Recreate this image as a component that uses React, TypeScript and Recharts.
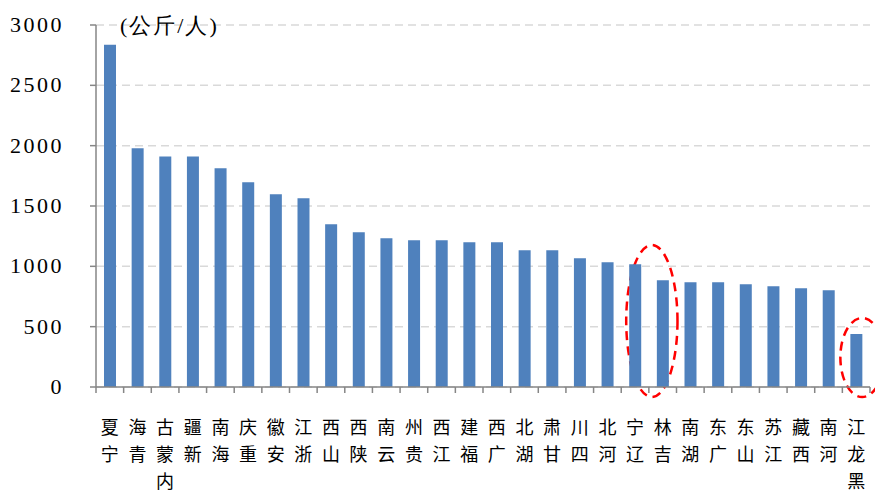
import { BarChart, Bar, XAxis, YAxis, CartesianGrid, ReferenceArea } from "recharts";

const provinces = [
  "宁夏", "青海", "内蒙古", "新疆", "海南", "重庆", "安徽", "浙江", "山西", "陕西",
  "云南", "贵州", "江西", "福建", "广西", "湖北", "甘肃", "四川", "河北", "辽宁",
  "吉林", "湖南", "广东", "山东", "江苏", "西藏", "河南", "黑龙江",
];
const perCapita = [
  2836, 1979, 1910, 1910, 1813, 1697, 1598, 1565, 1349, 1283,
  1233, 1216, 1216, 1200, 1200, 1133, 1133, 1067, 1034, 1017,
  884, 868, 868, 851, 834, 818, 801, 439,
];
const yTicks = [0, 500, 1000, 1500, 2000, 2500, 3000];
const unitLabel = "(公斤/人)";

const data = provinces.map((name, i) => ({ name, value: perCapita[i] }));

const AXIS_GRAY = "#868686";
const BAND = (870 - 96) / provinces.length;
const SERIF = "'Liberation Serif', 'DejaVu Serif', serif";

function YTick(props: any) {
  const { x, y, payload } = props;
  return (
    <g>
      <line x1={x + 2} y1={y} x2={x + 8} y2={y} stroke={AXIS_GRAY} strokeWidth={1.5} />
      <text
        x={x - 24}
        y={y}
        dy={7}
        textAnchor="end"
        fontFamily={SERIF}
        fontSize={22}
        letterSpacing={2.5}
        fill="#000"
      >
        {payload.value}
      </text>
    </g>
  );
}

function XTick(props: any) {
  const { x, y, payload, index } = props;
  const chars = Array.from(payload.value as string).reverse();
  const last = index === provinces.length - 1;
  const top = y - 8;
  return (
    <g>
      <line x1={x - BAND / 2} y1={top} x2={x - BAND / 2} y2={top + 6} stroke={AXIS_GRAY} strokeWidth={1.5} />
      {last && <line x1={x + BAND / 2} y1={top} x2={x + BAND / 2} y2={top + 6} stroke={AXIS_GRAY} strokeWidth={1.5} />}
      {chars.map((c, k) => (
        <text
          key={k}
          x={x}
          y={top + 47 + k * 27}
          textAnchor="middle"
          fontFamily="'Noto Sans CJK SC', sans-serif"
          fontSize={18}
          fill="#000"
        >
          {c}
        </text>
      ))}
    </g>
  );
}

function DashedEllipse(props: any) {
  const { x, y, width, height, shift = 0, pad = 0 } = props;
  return (
    <ellipse
      cx={x + width / 2 + shift}
      cy={y + height / 2}
      rx={width / 2 + pad}
      ry={height / 2}
      fill="none"
      stroke="#ff0000"
      strokeWidth={2.5}
      strokeDasharray="9 6"
    />
  );
}

export default function App() {
  return (
    <div style={{ position: "absolute", left: 0, top: 0, width: 875, height: 495, background: "#fff", overflow: "hidden" }}>
      <BarChart width={875} height={495} data={data} margin={{ top: 25, right: 5, bottom: 0, left: 0 }}>
        <CartesianGrid vertical={false} stroke="#d9d9d9" strokeWidth={1.5} strokeDasharray="8 5" />
        <YAxis
          domain={[0, 3000]}
          ticks={yTicks}
          width={96}
          interval={0}
          tickLine={false}
          tick={<YTick />}
          axisLine={{ stroke: AXIS_GRAY, strokeWidth: 1.5 }}
        />
        <XAxis
          dataKey="name"
          interval={0}
          height={108}
          tickLine={false}
          tick={<XTick />}
          axisLine={{ stroke: AXIS_GRAY, strokeWidth: 1.5 }}
        />
        <Bar dataKey="value" fill="#4F81BD" barSize={12} isAnimationActive={false} />
        <ReferenceArea
          x1="辽宁"
          x2="吉林"
          y1={-83}
          y2={1177}
          ifOverflow="visible"
          shape={<DashedEllipse shift={3} pad={-2} />}
        />
        <ReferenceArea
          x1="黑龙江"
          x2="黑龙江"
          y1={-83}
          y2={572}
          ifOverflow="visible"
          shape={<DashedEllipse shift={6} pad={8} />}
        />
        <text x={120} y={33} fontFamily={SERIF} fontSize={22} letterSpacing={2} fill="#000">
          {unitLabel}
        </text>
      </BarChart>
    </div>
  );
}
